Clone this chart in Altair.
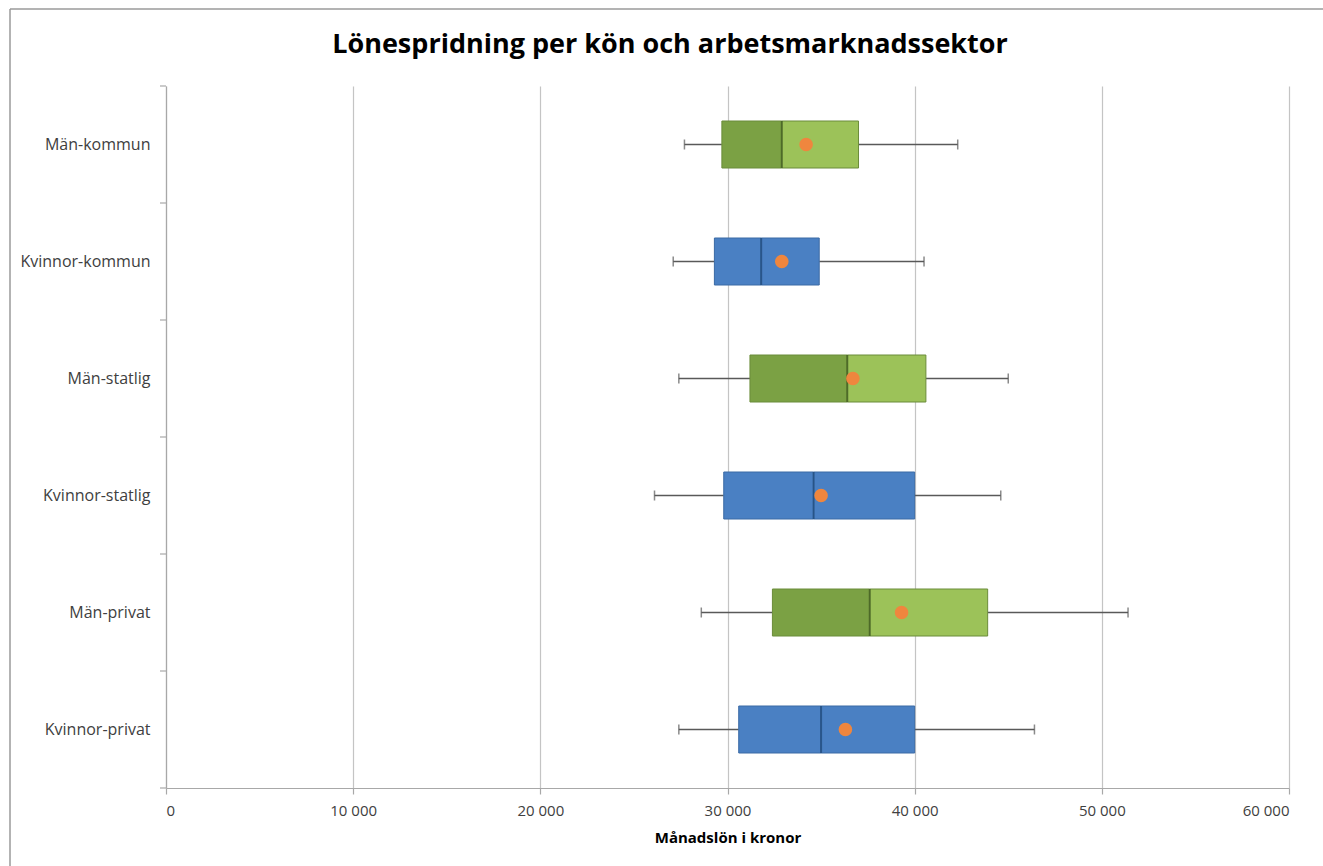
import altair as alt
import pandas as pd

# Salary distribution per gender and labour-market sector (SEK per month)
categories = [
    "Män-kommun",
    "Kvinnor-kommun",
    "Män-statlig",
    "Kvinnor-statlig",
    "Män-privat",
    "Kvinnor-privat",
]
gender = ["Män", "Kvinnor", "Män", "Kvinnor", "Män", "Kvinnor"]
minimum = [27700, 27100, 27400, 26100, 28600, 27400]
q1 = [29700, 29300, 31200, 29800, 32400, 30600]
median = [32900, 31800, 36400, 34600, 37600, 35000]
q3 = [37000, 34900, 40600, 40000, 43900, 40000]
maximum = [42300, 40500, 45000, 44600, 51400, 46400]
mean = [34200, 32900, 36700, 35000, 39300, 36300]
x_ticks = [0, 10000, 20000, 30000, 40000, 50000, 60000]
title_text = "Lönespridning per kön och arbetsmarknadssektor"

stats = pd.DataFrame({
    "kategori": categories,
    "kön": gender,
    "min": minimum,
    "q1": q1,
    "median": median,
    "q3": q3,
    "max": maximum,
    "medel": mean,
})

# Each box is split at the median into a lower and an upper half
halves = pd.concat([
    pd.DataFrame({"kategori": categories, "kön": gender, "från": q1, "till": median,
                  "del": [g + "-nedre" for g in gender]}),
    pd.DataFrame({"kategori": categories, "kön": gender, "från": median, "till": q3,
                  "del": [g + "-övre" for g in gender]}),
], ignore_index=True)

W, H = 1123, 702
FONT = "Open Sans"
BOX = 47

y_scale = alt.Scale(domain=categories, paddingInner=0, paddingOuter=0)
y_axis = alt.Axis(
    title=None, ticks=False, domain=True, domainColor="#a8a8a8", domainWidth=1.2,
    labelFont=FONT, labelFontSize=16, labelColor="#404040", labelPadding=16,
    grid=False,
)
y_enc = alt.Y("kategori:N", sort=categories, scale=y_scale, axis=y_axis)

x_scale = alt.Scale(domain=[0, 60000], nice=False)
x_axis = alt.Axis(
    values=x_ticks,
    title="Månadslön  i kronor",
    titleFont=FONT, titleFontSize=15, titleFontWeight="bold", titleColor="#000000",
    titlePadding=12,
    labelFont=FONT, labelFontSize=15, labelColor="#404040", labelPadding=9,
    labelExpr="replace(format(datum.value, ','), ',', ' ')",
    grid=True, gridColor="#c4c4c4", gridWidth=1.2,
    domainColor="#a8a8a8", domainWidth=1.2,
    tickColor="#a8a8a8", tickSize=6, tickWidth=1.2,
)


def xq(field):
    return alt.X(field, scale=x_scale, axis=x_axis)


base = alt.Chart(stats)

whisker_lo = base.mark_rule(color="#595959", strokeWidth=1.5).encode(
    x=xq("min:Q"), x2="q1:Q", y=y_enc,
)
whisker_hi = base.mark_rule(color="#595959", strokeWidth=1.5).encode(
    x=xq("q3:Q"), x2="max:Q", y=y_enc,
)
cap_lo = base.mark_tick(color="#595959", thickness=1.5, size=10).encode(
    x=xq("min:Q"), y=y_enc,
)
cap_hi = base.mark_tick(color="#595959", thickness=1.5, size=10).encode(
    x=xq("max:Q"), y=y_enc,
)

boxes = alt.Chart(halves).mark_bar(size=BOX, strokeWidth=1).encode(
    x=xq("från:Q"),
    x2="till:Q",
    y=y_enc,
    color=alt.Color(
        "del:N", legend=None,
        scale=alt.Scale(
            domain=["Män-nedre", "Män-övre", "Kvinnor-nedre", "Kvinnor-övre"],
            range=["#7ba144", "#9cc259", "#4a80c3", "#4a80c3"],
        ),
    ),
    stroke=alt.Stroke(
        "kön:N", legend=None,
        scale=alt.Scale(domain=["Män", "Kvinnor"], range=["#6b8c3a", "#3a6aa5"]),
    ),
)

median_line = base.mark_tick(thickness=2, size=BOX).encode(
    x=xq("median:Q"),
    y=y_enc,
    color=alt.Color(
        "kön:N", legend=None,
        scale=alt.Scale(domain=["Män", "Kvinnor"], range=["#3f5a20", "#1f4a7a"]),
    ),
)

mean_dot = base.mark_circle(size=185, opacity=1, color="#ef863e").encode(
    x=xq("medel:Q"), y=y_enc,
)

# Small tick marks on the category axis, between the categories
cat_ticks = base.mark_rule(color="#a8a8a8", strokeWidth=1.2).encode(
    y=alt.Y("kategori:N", sort=categories, scale=y_scale, axis=y_axis, bandPosition=0),
    x=alt.value(-6), x2=alt.value(0),
)
one = alt.Chart(pd.DataFrame({"k": [0]}))
bottom_tick = one.mark_rule(color="#a8a8a8", strokeWidth=1.2).encode(
    y=alt.value(H), x=alt.value(-6), x2=alt.value(0),
)

# Outer frame of the chart area
frame_top = one.mark_rule(color="#9a9a9a", strokeWidth=1.5).encode(
    y=alt.value(-77), x=alt.value(-156), x2=alt.value(W + 40),
)
frame_left = one.mark_rule(color="#9a9a9a", strokeWidth=1.5).encode(
    x=alt.value(-156), y=alt.value(-77), y2=alt.value(H + 80),
)

# Chart heading
heading = one.mark_text(
    text=title_text, font=FONT, fontSize=27, fontWeight="bold", color="#000000",
    align="center", baseline="middle",
).encode(x=alt.value(670 - 166), y=alt.value(45 - 86))

chart = alt.layer(
    frame_top, frame_left, heading,
    whisker_lo, whisker_hi, cap_lo, cap_hi,
    boxes, median_line, mean_dot,
    cat_ticks, bottom_tick,
).resolve_scale(
    color="independent"
).properties(
    width=W,
    height=H,
    autosize=alt.AutoSizeParams(type="none"),
    padding={"left": 166, "top": 86, "right": 34, "bottom": 78},
    background="#ffffff",
).configure_view(stroke=None)

chart.save("out.html", embed_options={"renderer": "svg", "actions": False})
